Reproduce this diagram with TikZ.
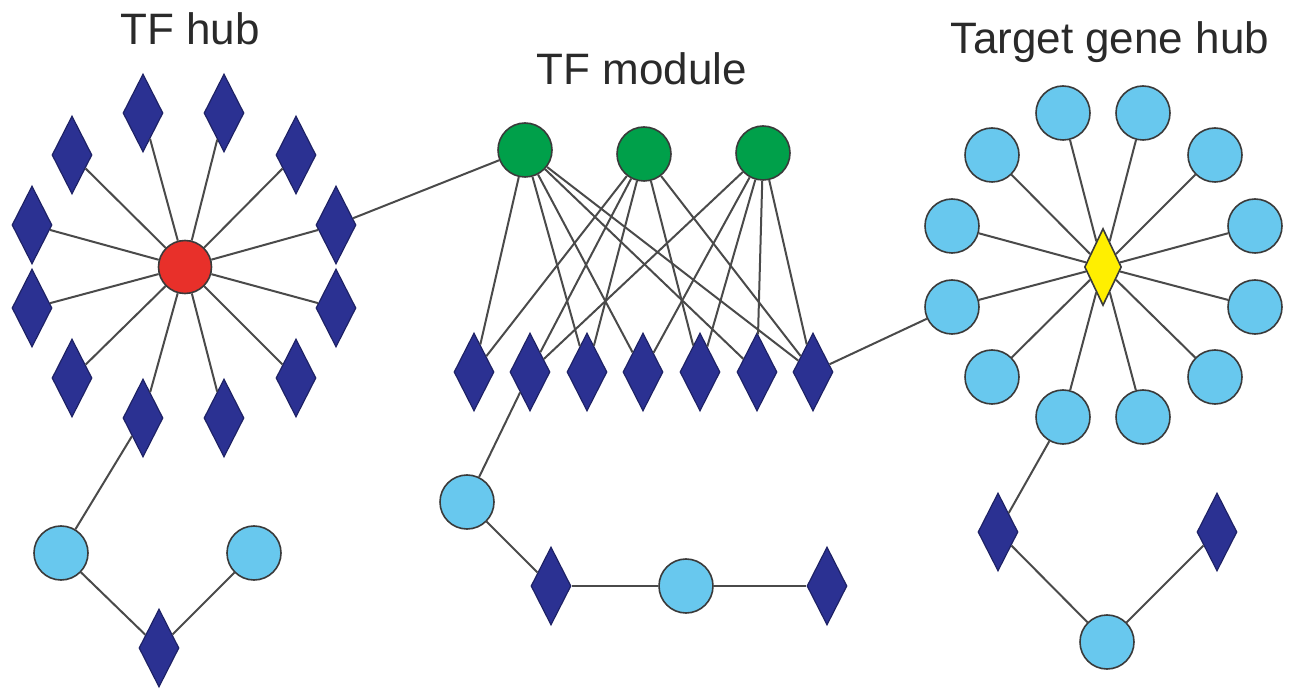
\documentclass[tikz,border=0pt]{standalone}
\usepackage{fontspec}
\setmainfont{Liberation Sans}
\usetikzlibrary{shapes.geometric}
\definecolor{navy}{HTML}{2B3192}
\definecolor{navyline}{HTML}{1E2266}
\definecolor{hubred}{HTML}{E8302A}
\definecolor{modgreen}{HTML}{00A04A}
\definecolor{lblue}{HTML}{68C8EE}
\definecolor{hubyellow}{HTML}{FFEF00}
\definecolor{edgegray}{HTML}{4A4A4A}
\definecolor{bordergray}{HTML}{3A3A3A}
\definecolor{textgray}{HTML}{2A2A2A}
\begin{document}
\begin{tikzpicture}[x=1pt,y=-1pt,
  dia/.style={diamond, draw=navyline, fill=navy, line width=1.2pt, minimum width=40pt, minimum height=78pt, inner sep=0pt},
  lbc/.style={circle, draw=bordergray, fill=lblue, line width=1.6pt, minimum size=54pt, inner sep=0pt},
  grc/.style={circle, draw=bordergray, fill=modgreen, line width=1.6pt, minimum size=54pt, inner sep=0pt},
  redc/.style={circle, draw=bordergray, fill=hubred, line width=1.6pt, minimum size=53pt, inner sep=0pt},
  ydia/.style={diamond, draw=bordergray, fill=hubyellow, line width=1.6pt, minimum width=37pt, minimum height=77pt, inner sep=0pt},
  conn/.style={draw=edgegray, line width=2pt},
  title/.style={anchor=base, text=textgray, font=\fontsize{44}{50}\selectfont, inner sep=0pt}
]
\useasboundingbox (0,0) rectangle (1291,692);

% titles
\node[title] (t1) at (190,45) {TF hub};
\node[title] (t2) at (642,85) {TF module};
\node[title] (t3) at (1110,54) {Target gene hub};

% ---------- TF hub ----------
\node[redc] (R) at (185,267) {};
\node[dia] (L1) at (143,113) {};
\node[dia] (L2) at (224,113) {};
\node[dia] (L3) at (72,155) {};
\node[dia] (L4) at (296,155) {};
\node[dia] (L5) at (32,225) {};
\node[dia] (L6) at (336,225) {};
\node[dia] (L7) at (32,308) {};
\node[dia] (L8) at (336,308) {};
\node[dia] (L9) at (72,378) {};
\node[dia] (L10) at (296,378) {};
\node[dia] (L11) at (143,418) {};
\node[dia] (L12) at (224,418) {};
\node[lbc] (LC1) at (61,553) {};
\node[lbc] (LC2) at (254,553) {};
\node[dia] (LD) at (159,648) {};

% ---------- TF module ----------
\node[grc] (G1) at (525,150) {};
\node[grc] (G2) at (644,154) {};
\node[grc] (G3) at (763,153) {};
\node[dia] (D1) at (474,372) {};
\node[dia] (D2) at (530,372) {};
\node[dia] (D3) at (587,372) {};
\node[dia] (D4) at (643,372) {};
\node[dia] (D5) at (700,372) {};
\node[dia] (D6) at (757,372) {};
\node[dia] (D7) at (813,372) {};
\node[lbc] (MC1) at (467,502) {};
\node[dia] (MD1) at (551,586) {};
\node[lbc] (MC2) at (686,586) {};
\node[dia] (MD2) at (827,586) {};

% ---------- Target gene hub ----------
\node[ydia] (Y) at (1103,267) {};
\node[lbc] (C1) at (1063,113) {};
\node[lbc] (C2) at (1143,113) {};
\node[lbc] (C3) at (992,155) {};
\node[lbc] (C4) at (1215,155) {};
\node[lbc] (C5) at (952,226) {};
\node[lbc] (C6) at (1255,226) {};
\node[lbc] (C7) at (952,307) {};
\node[lbc] (C8) at (1255,307) {};
\node[lbc] (C9) at (992,377) {};
\node[lbc] (C10) at (1215,377) {};
\node[lbc] (C11) at (1063,417) {};
\node[lbc] (C12) at (1143,417) {};
\node[dia] (RD1) at (998,532) {};
\node[dia] (RD2) at (1217,532) {};
\node[lbc] (RC) at (1107,642) {};

% ---------- connectors ----------
\foreach \i in {1,...,12} { \draw[conn] (R) -- (L\i); }
\draw[conn] (L11) -- (LC1);
\draw[conn] (LC1) -- (LD);
\draw[conn] (LD) -- (LC2);
\draw[conn] (L6) -- (G1);

\foreach \j in {1,3,4,6,7} { \draw[conn] (G1) -- (D\j); }
\foreach \j in {1,2,3,5,7} { \draw[conn] (G2) -- (D\j); }
\foreach \j in {2,4,5,6,7} { \draw[conn] (G3) -- (D\j); }
\draw[conn] (D2) -- (MC1);
\draw[conn] (MC1) -- (MD1);
\draw[conn] (MD1) -- (MC2);
\draw[conn] (MC2) -- (MD2);
\draw[conn] (D7) -- (C7);

\foreach \i in {1,...,12} { \draw[conn] (Y) -- (C\i); }
\draw[conn] (C11) -- (RD1);
\draw[conn] (RD1) -- (RC);
\draw[conn] (RC) -- (RD2);
\end{tikzpicture}
\end{document}
